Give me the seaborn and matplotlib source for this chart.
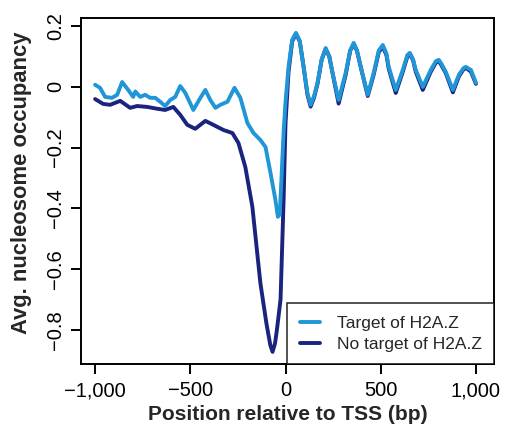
import matplotlib
matplotlib.use("Agg")
import matplotlib.pyplot as plt
import seaborn as sns
import pandas as pd

# Nucleosome occupancy profile around the TSS, genes targeted by H2A.Z
target_pos = [-1000, -974, -947, -911, -884, -858, -826, -800, -789, -763, -737, -711,
              -684, -658, -632, -605, -579, -553, -526, -484, -447, -421, -395, -368,
              -342, -305, -268, -237, -200, -168, -132, -105, -79, -53, -40, -30, -10,
              0, 16, 35, 55, 75, 95, 115, 132, 150, 168, 190, 211, 230, 247, 279, 316,
              340, 358, 375, 395, 432, 463, 490, 511, 530, 542, 579, 616, 640, 653, 670,
              684, 721, 763, 790, 805, 820, 842, 879, 911, 935, 947, 962, 974, 1000]
target_occ = [0.007, -0.003, -0.033, -0.036, -0.026, 0.016, -0.010, -0.033, -0.015, -0.033,
              -0.026, -0.036, -0.036, -0.049, -0.063, -0.043, -0.033, 0.003, -0.020, -0.076,
              -0.036, -0.010, -0.043, -0.069, -0.059, -0.049, -0.003, -0.036, -0.119, -0.152,
              -0.175, -0.198, -0.283, -0.372, -0.428, -0.420, -0.150, -0.050, 0.066, 0.155,
              0.178, 0.150, 0.066, -0.020, -0.059, -0.030, 0.013, 0.090, 0.128, 0.100, 0.046,
              -0.043, 0.046, 0.120, 0.145, 0.120, 0.066, -0.026, 0.046, 0.120, 0.138, 0.110,
              0.066, -0.010, 0.056, 0.105, 0.112, 0.090, 0.056, 0.000, 0.056, 0.085, 0.089,
              0.075, 0.049, -0.010, 0.040, 0.062, 0.066, 0.060, 0.056, 0.013]

# Same profile for genes not targeted by H2A.Z
other_pos = [-1000, -958, -921, -868, -816, -779, -726, -674, -632, -589, -553, -516, -474,
             -421, -379, -326, -279, -247, -211, -174, -132, -100, -80, -68, -55, -45, -26,
             -10, 0, 16, 35, 55, 75, 95, 115, 132, 150, 168, 190, 211, 230, 247, 279, 316,
             340, 358, 375, 395, 432, 463, 490, 511, 530, 542, 579, 616, 640, 653, 670, 684,
             721, 763, 790, 805, 820, 842, 879, 911, 935, 947, 962, 974, 1000]
other_occ = [-0.040, -0.056, -0.059, -0.046, -0.069, -0.063, -0.066, -0.072, -0.076, -0.066,
             -0.092, -0.125, -0.138, -0.112, -0.125, -0.142, -0.152, -0.185, -0.264, -0.395,
             -0.646, -0.780, -0.850, -0.873, -0.845, -0.800, -0.700, -0.372, -0.120, 0.050,
             0.150, 0.175, 0.150, 0.066, -0.025, -0.065, -0.035, 0.010, 0.090, 0.125, 0.100,
             0.046, -0.055, 0.040, 0.120, 0.140, 0.120, 0.066, -0.030, 0.040, 0.115, 0.132,
             0.105, 0.060, -0.020, 0.050, 0.100, 0.108, 0.088, 0.050, -0.010, 0.050, 0.080,
             0.085, 0.070, 0.045, -0.018, 0.035, 0.058, 0.062, 0.056, 0.050, 0.010]

series_names = ["Target of H2A.Z", "No target of H2A.Z"]
series_colors = ["#2196d6", "#1a237e"]

x_ticks = [-1000, -500, 0, 500, 1000]
x_tick_labels = ["\u22121,000", "\u2212500", "0", "500", "1,000"]
y_ticks = [0.2, 0.0, -0.2, -0.4, -0.6, -0.8]
y_tick_labels = ["0.2", "0", "\u22120.2", "\u22120.4", "\u22120.6", "\u22120.8"]

df_target = pd.DataFrame({"pos": target_pos, "occ": target_occ})
df_other = pd.DataFrame({"pos": other_pos, "occ": other_occ})

sns.set_theme(style="ticks")
plt.rcParams["font.family"] = ["Liberation Sans", "DejaVu Sans"]

fig = plt.figure(figsize=(5.09, 4.42), dpi=100)
fig.patch.set_facecolor("white")
ax = fig.add_axes([81 / 509, 1 - 364 / 442, (494 - 81) / 509, (364 - 18) / 442])

# Non-target drawn first so the target curve sits on top
sns.lineplot(data=df_other, x="pos", y="occ", ax=ax, color=series_colors[1],
             linewidth=2.8, label=series_names[1], estimator=None, sort=False)
sns.lineplot(data=df_target, x="pos", y="occ", ax=ax, color=series_colors[0],
             linewidth=2.8, label=series_names[0], estimator=None, sort=False)

ax.set_xlim(-1074, 1095)
ax.set_ylim(-0.913, 0.227)

ax.set_xticks(x_ticks)
ax.set_xticklabels(x_tick_labels)
ax.set_yticks(y_ticks)
ax.set_yticklabels(y_tick_labels, rotation=90, va="center")

ax.tick_params(axis="both", direction="out", length=7.5, width=1.4,
               labelsize=14.5, colors="black", labelcolor="black")
ax.tick_params(axis="x", pad=5)
ax.tick_params(axis="y", pad=4)

for side in ["left", "right", "top", "bottom"]:
    ax.spines[side].set_visible(True)
    ax.spines[side].set_linewidth(1.4)
    ax.spines[side].set_color("black")

ax.set_xlabel("Position relative to TSS (bp)", fontsize=15, fontweight="bold",
              ha="center", va="center")
ax.set_ylabel("Avg. nucleosome occupancy", fontsize=15.8, fontweight="bold",
              ha="center", va="center")
ax.xaxis.set_label_coords(0.5, -0.147)
ax.yaxis.set_label_coords(-0.143, 0.525)

handles, labels = ax.get_legend_handles_labels()
order = [labels.index(n) for n in series_names]
leg = ax.legend([handles[i] for i in order], [labels[i] for i in order],
                loc="lower right", bbox_to_anchor=(1.0, 0.0), borderaxespad=0.0,
                fontsize=12.5, handlelength=1.15, handletextpad=1.0,
                labelspacing=0.35, borderpad=0.7, frameon=True, fancybox=False)
leg.get_frame().set_edgecolor("black")
leg.get_frame().set_linewidth(1.2)
for line in leg.get_lines():
    line.set_linewidth(2.8)

fig.savefig("out.png", dpi=100, facecolor="white")
